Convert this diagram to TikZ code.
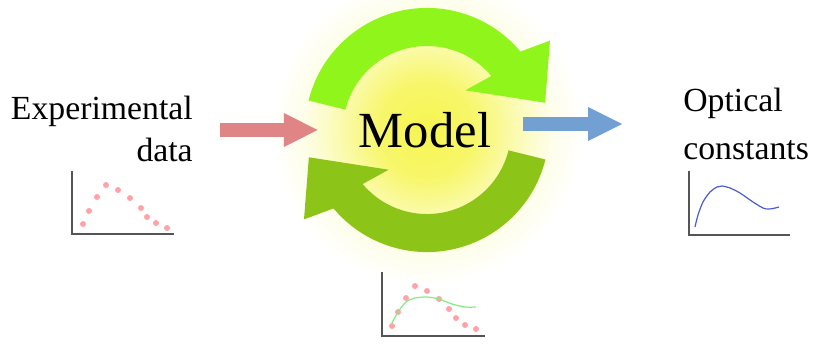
\documentclass[tikz,border=0pt]{standalone}
\usepackage{fontspec}
\setmainfont{Liberation Serif}
\usetikzlibrary{arrows.meta,positioning,calc}
\definecolor{glowc}{HTML}{F6F550}
\definecolor{cyctop}{HTML}{8FF51A}
\definecolor{cycbot}{HTML}{8CC418}
\definecolor{inred}{HTML}{DF8585}
\definecolor{outblue}{HTML}{73A0D2}
\definecolor{dotc}{HTML}{FFA3A8}
\definecolor{fitc}{HTML}{80EE80}
\definecolor{nkc}{HTML}{4C5CD0}
\definecolor{axc}{HTML}{555555}
\pgfdeclareradialshading{glow}{\pgfpoint{0bp}{0bp}}{color(0bp)=(glowc); color(12bp)=(glowc!85!white); color(22bp)=(glowc!45!white); color(31bp)=(glowc!12!white); color(39bp)=(white); color(50bp)=(white)}

\begin{document}
\begin{tikzpicture}[x=0.025cm, y=0.025cm,
  label/.style={font=\fontsize{24}{30}\selectfont, inner sep=0pt},
  flow/.style={line width=0.33cm, -{Triangle[length=0.87cm, width=0.78cm]}},
  axes/.style={draw=axc, line width=0.043cm},
  dot/.style={fill=dotc, draw=none}
]
  \useasboundingbox (0,0) rectangle (817,345);

  % Glow behind the model
  \node[inner sep=0pt, scale=2.835] (glow) at (427,215) {\pgfuseshading{glow}};

  % Iteration cycle
  \def\Ro{3.05cm}\def\Ri{2.1cm}
  \begin{scope}[shift={(427,215)}]
    \foreach \a/\c in {0/cyctop, 180/cycbot}
      \fill[\c] ({166+\a}:\Ro) arc[start angle={166+\a}, end angle={40+\a}, radius=\Ro]
        -- ({36+\a}:3.8cm) -- ({13+\a}:3.03cm) -- ({46+\a}:1.38cm)
        -- ({40+\a}:\Ri) arc[start angle={40+\a}, end angle={166+\a}, radius=\Ri] -- cycle;
  \end{scope}

  % Labels
  \node[label, align=right, anchor=east] (exp) at (193,216) {Experimental\\data};
  \node[font=\fontsize{36}{40}\selectfont, inner sep=0pt] (model) at (425,215) {Model};
  \node[label, align=left, anchor=west, font=\fontsize{24}{34}\selectfont] (opt) at (683,221) {Optical\\constants};

  % Input and output
  \draw[flow, inred, shorten <=0.675cm, shorten >=1.0cm] (exp.east |- model.west) -- (model.west);
  \draw[flow, outblue, shorten <=0.8cm, shorten >=1.5cm]
    ($(model.east)+(0,6)$) -- ($(model.east -| opt.west)+(0,6)$);

  % Measured data
  \draw[axes] (72,174) -- (72,111) -- (174,111);
  \foreach \px/\py in {83/121, 89/134, 97/148, 106/160, 118/155, 130/147, 141/137, 147/128, 156/122, 167/117}
    \fill[dot] (\px,\py) circle (3);

  % Fit to the data
  \draw[axes] (382,73) -- (382,9) -- (485,9);
  \foreach \px/\py in {392/19, 398/33, 406/47, 415/59, 427/54, 439/46, 449/36, 456/27, 465/20, 476/16}
    \fill[dot] (\px,\py) circle (3);
  \draw[fitc, line width=0.03cm] plot[smooth] coordinates {(392,22) (398,33) (406,43) (415,47) (427,48) (439,46) (452,41) (465,38) (476,38)};

  % Resulting constants
  \draw[axes] (689,174) -- (689,110) -- (790,110);
  \draw[nkc, line width=0.03cm] plot[smooth] coordinates {(695,118) (698,130) (703,143) (710,153) (717,158) (722,159) (730,157) (740,152) (753,143) (763,137) (768,136) (773,136.5) (779,138)};
\end{tikzpicture}
\end{document}
